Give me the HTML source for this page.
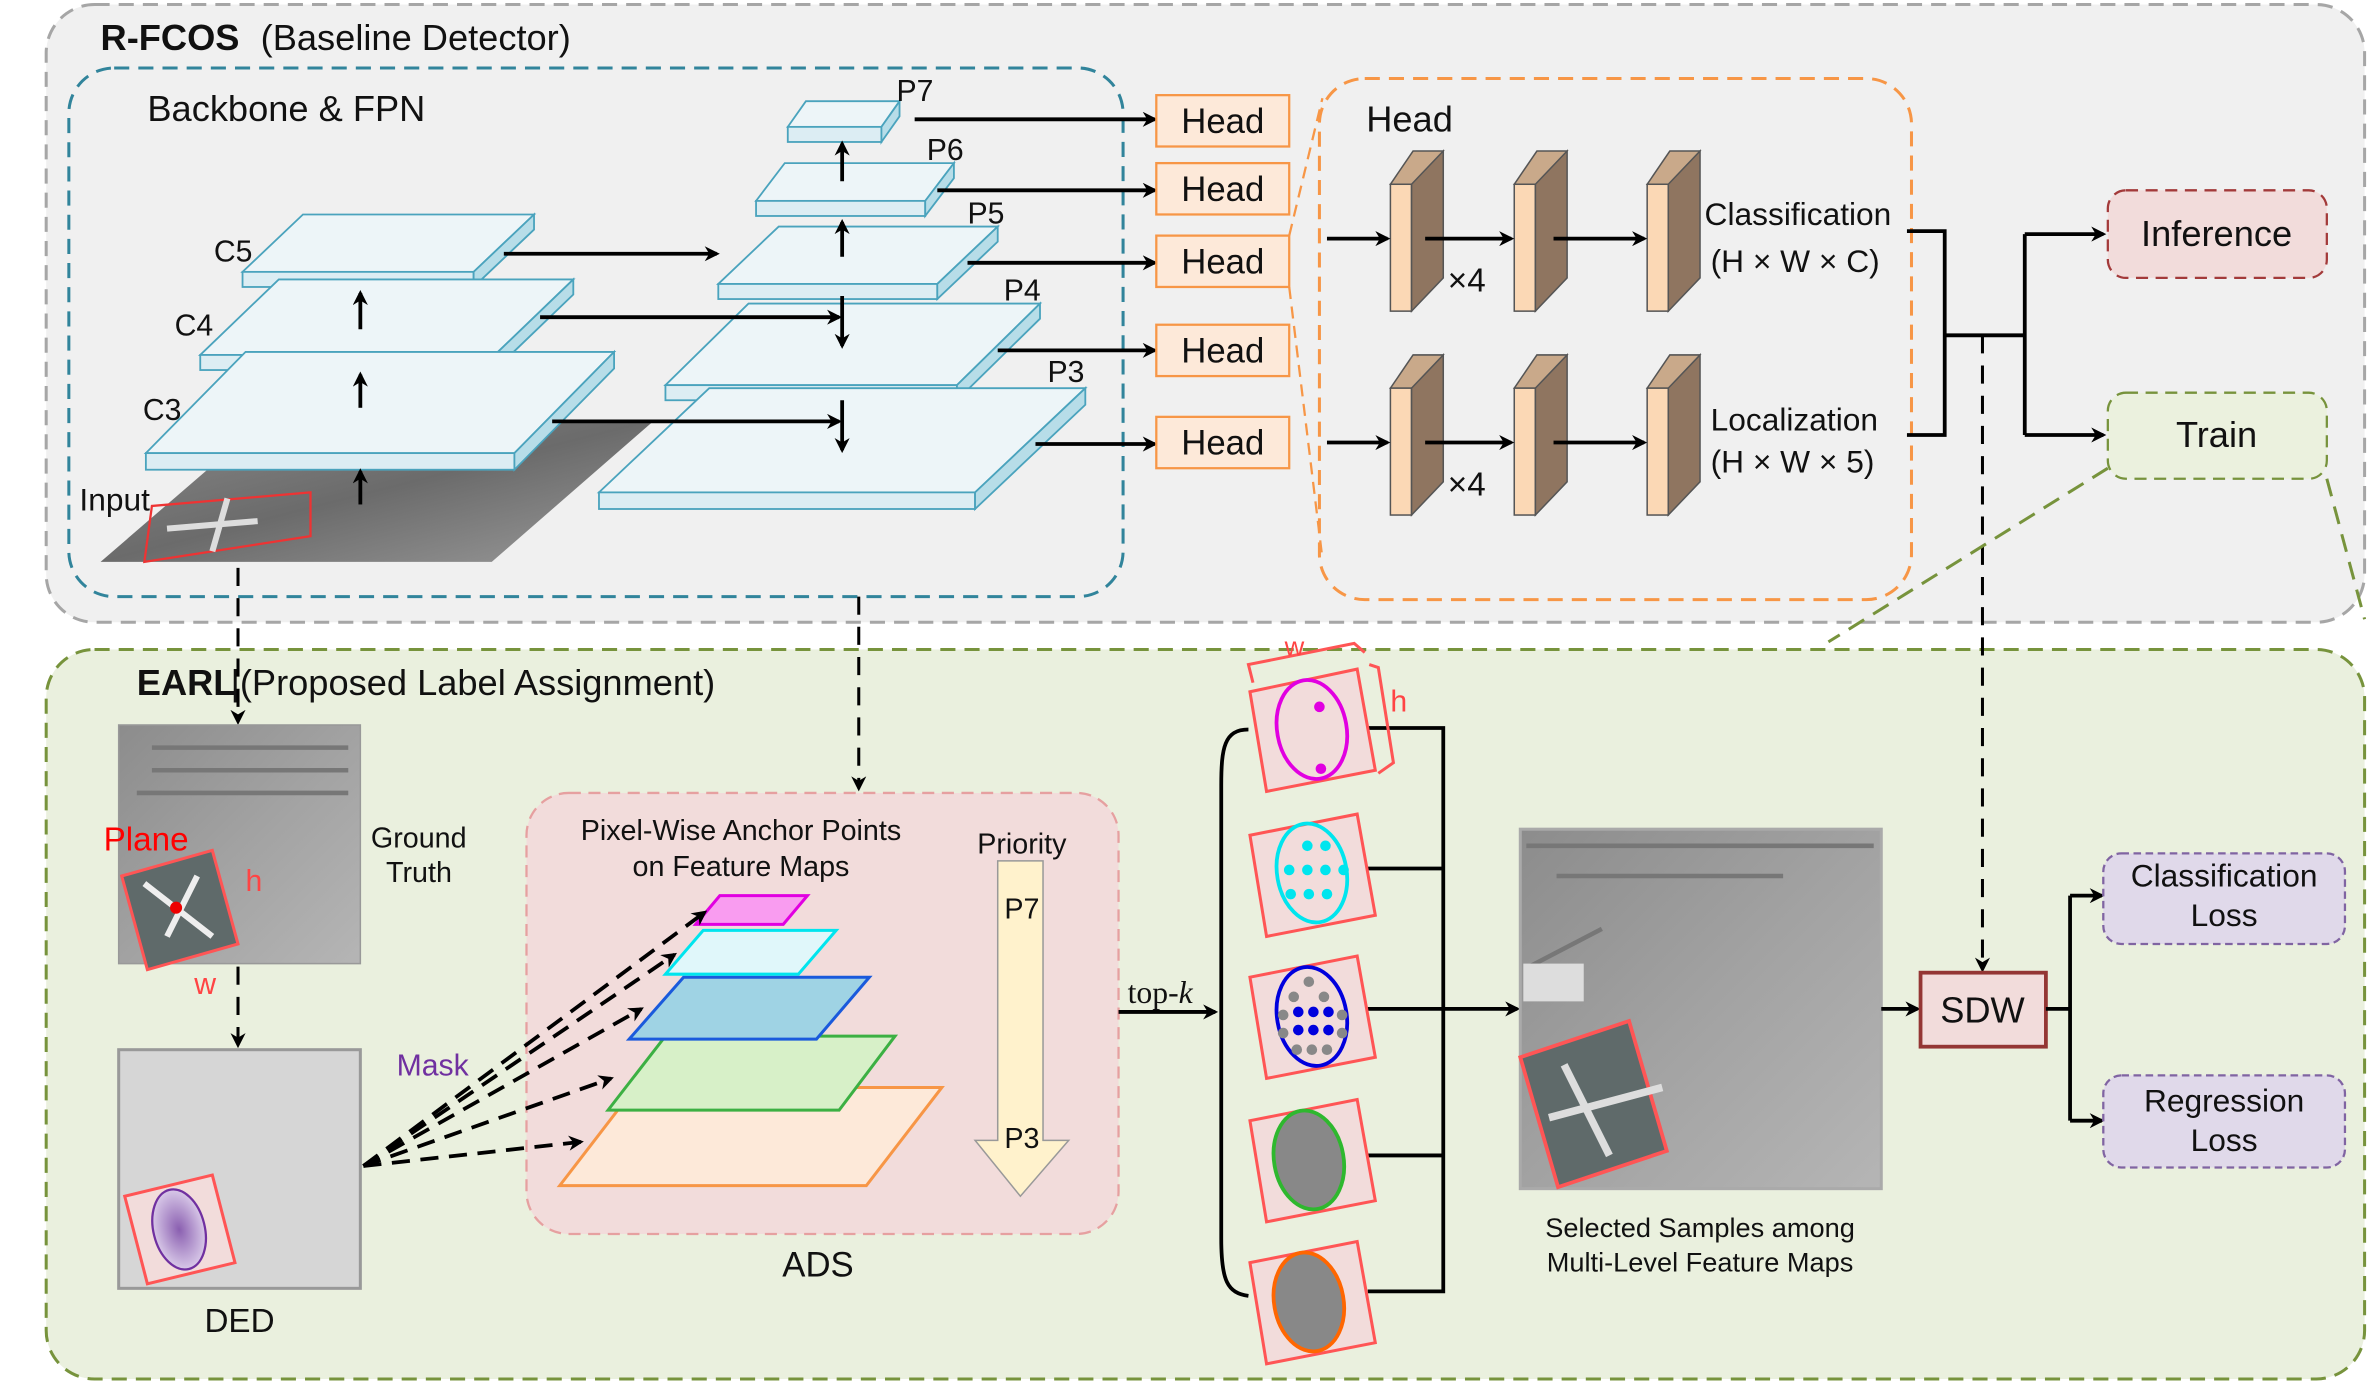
<!DOCTYPE html>
<html><head><meta charset="utf-8"><style>
html,body{margin:0;padding:0;background:#fff}
svg{display:block}
text{font-family:"Liberation Sans",sans-serif;fill:#111}
</style></head><body>
<svg width="2370" height="1385" viewBox="0 0 1568 917" xmlns="http://www.w3.org/2000/svg">
<defs>
<marker id="a" markerWidth="10" markerHeight="10" refX="8" refY="5" orient="auto" markerUnits="userSpaceOnUse"><path d="M0,0 L10,5 L0,10 L3,5 z" fill="#000"/></marker>
<linearGradient id="img" x1="0" y1="0" x2="1" y2="1"><stop offset="0" stop-color="#8a8a8a"/><stop offset="0.5" stop-color="#6b6b6b"/><stop offset="1" stop-color="#9a9a9a"/></linearGradient>
<linearGradient id="sat" x1="0" y1="0" x2="1" y2="1"><stop offset="0" stop-color="#8c8c8c"/><stop offset="0.5" stop-color="#a2a2a2"/><stop offset="1" stop-color="#b5b5b5"/></linearGradient>
<radialGradient id="ded"><stop offset="0" stop-color="#8a5fb0"/><stop offset="1" stop-color="#d8c8e8"/></radialGradient>
</defs>

<!-- Outer boxes -->
<rect x="30" y="3" width="1535" height="409" rx="32" fill="#f0f0f0" stroke="#a6a6a6" stroke-width="2" stroke-dasharray="10,6"/>
<rect x="30" y="430" width="1535" height="483" rx="32" fill="#eaf0de" stroke="#77933c" stroke-width="2" stroke-dasharray="10,6"/>
<rect x="45" y="45" width="698" height="350" rx="30" fill="none" stroke="#31849b" stroke-width="2" stroke-dasharray="10,6"/>
<rect x="873" y="52" width="392" height="345" rx="30" fill="none" stroke="#f79646" stroke-width="2" stroke-dasharray="10,6"/>

<text x="66" y="33" font-size="24" font-weight="bold">R-FCOS</text>
<text x="172" y="33" font-size="24">(Baseline Detector)</text>
<text x="97" y="80" font-size="24">Backbone &amp; FPN</text>

<!-- Input image -->
<polygon points="66,372 325,372 433,278 175,278" fill="url(#img)"/>
<polygon points="95,372 205,355 205,326 100,335" fill="none" stroke="#e33" stroke-width="1.5"/>
<path d="M110,350 L170,345 M150,330 L140,365" stroke="#ddd" stroke-width="4"/>
<text x="52" y="338" font-size="21">Input</text>

<!-- plates: C5, C4, C3 -->
<g stroke="#4aa3bd" stroke-width="1.2">
<polygon points="160,180 200,142 353,142 313,180" fill="#edf5f8"/><rect x="160" y="180" width="153" height="10" fill="#dcedf3"/><polygon points="313,180 353,142 353,152 313,190" fill="#b7dde8"/>
<polygon points="132,235 184,185 379,185 327,235" fill="#edf5f8"/><rect x="132" y="235" width="195" height="10" fill="#dcedf3"/><polygon points="327,235 379,185 379,195 327,245" fill="#b7dde8"/>
<polygon points="96,300 162,233 406,233 340,300" fill="#edf5f8"/><rect x="96" y="300" width="244" height="11" fill="#dcedf3"/><polygon points="340,300 406,233 406,244 340,311" fill="#b7dde8"/>
<!-- P7..P3 -->
<polygon points="521,84 533,67 595,67 583,84" fill="#edf5f8"/><rect x="521" y="84" width="62" height="10" fill="#dcedf3"/><polygon points="583,84 595,67 595,77 583,94" fill="#b7dde8"/>
<polygon points="500,133 519,108 631,108 612,133" fill="#edf5f8"/><rect x="500" y="133" width="112" height="10" fill="#dcedf3"/><polygon points="612,133 631,108 631,118 612,143" fill="#b7dde8"/>
<polygon points="475,188 515,150 660,150 620,188" fill="#edf5f8"/><rect x="475" y="188" width="145" height="10" fill="#dcedf3"/><polygon points="620,188 660,150 660,160 620,198" fill="#b7dde8"/>
<polygon points="440,255 495,201 688,201 633,255" fill="#edf5f8"/><rect x="440" y="255" width="193" height="10" fill="#dcedf3"/><polygon points="633,255 688,201 688,211 633,265" fill="#b7dde8"/>
<polygon points="396,326 469,257 718,257 645,326" fill="#edf5f8"/><rect x="396" y="326" width="249" height="11" fill="#dcedf3"/><polygon points="645,326 718,257 718,268 645,337" fill="#b7dde8"/>
</g>
<g font-size="20">
<text x="141" y="173">C5</text><text x="115" y="222">C4</text><text x="94" y="278">C3</text>
<text x="593" y="67">P7</text><text x="613" y="106">P6</text><text x="640" y="148">P5</text><text x="664" y="199">P4</text><text x="693" y="253">P3</text>
</g>
<g stroke="#000" stroke-width="2.5" fill="none" marker-end="url(#a)">
<line x1="333" y1="168" x2="474" y2="168"/>
<line x1="357" y1="210" x2="555" y2="210"/>
<line x1="365" y1="279" x2="555" y2="279"/>
<line x1="238" y1="218" x2="238" y2="194"/>
<line x1="238" y1="270" x2="238" y2="248"/>
<line x1="238" y1="334" x2="238" y2="312"/>
<line x1="557" y1="170" x2="557" y2="147"/>
<line x1="557" y1="120" x2="557" y2="95"/>
<line x1="557" y1="196" x2="557" y2="229"/>
<line x1="557" y1="265" x2="557" y2="298"/>
<line x1="605" y1="79" x2="764" y2="79"/>
<line x1="620" y1="126" x2="764" y2="126"/>
<line x1="640" y1="174" x2="764" y2="174"/>
<line x1="660" y1="232" x2="764" y2="232"/>
<line x1="685" y1="294" x2="764" y2="294"/>
</g>

<!-- Heads -->
<g fill="#fde9d9" stroke="#f79646" stroke-width="1.5">
<rect x="765" y="63" width="88" height="34"/><rect x="765" y="108" width="88" height="34"/><rect x="765" y="156" width="88" height="34"/><rect x="765" y="215" width="88" height="34"/><rect x="765" y="276" width="88" height="34"/>
</g>
<g font-size="23" text-anchor="middle">
<text x="809" y="88">Head</text><text x="809" y="133">Head</text><text x="809" y="181">Head</text><text x="809" y="240">Head</text><text x="809" y="301">Head</text>
</g>
<g stroke="#f79646" stroke-width="1.5" stroke-dasharray="8,5" fill="none">
<line x1="853" y1="156" x2="875" y2="65"/><line x1="853" y1="190" x2="875" y2="370"/>
</g>

<!-- head detail -->
<text x="904" y="87" font-size="24">Head</text>
<g stroke="#555" stroke-width="1">
<g id="blk"><polygon points="920,122 935,100 955,100 940,122" fill="#c9a98a"/><rect x="920" y="122" width="14" height="84" fill="#fbd8b5"/><polygon points="934,122 955,100 955,184 934,206" fill="#8f7560"/></g>
<use href="#blk" x="82"/><use href="#blk" x="170"/>
<use href="#blk" y="135"/><use href="#blk" x="82" y="135"/><use href="#blk" x="170" y="135"/>
</g>
<g stroke="#000" stroke-width="2.5" marker-end="url(#a)">
<line x1="878" y1="158" x2="918" y2="158"/><line x1="943" y1="158" x2="1000" y2="158"/><line x1="1028" y1="158" x2="1088" y2="158"/>
<line x1="878" y1="293" x2="918" y2="293"/><line x1="943" y1="293" x2="1000" y2="293"/><line x1="1028" y1="293" x2="1088" y2="293"/>
</g>
<text x="958" y="193" font-size="22">×4</text><text x="958" y="328" font-size="22">×4</text>
<g font-size="21">
<text x="1128" y="149">Classification</text><text x="1132" y="180">(H × W × C)</text>
<text x="1132" y="285">Localization</text><text x="1132" y="313">(H × W × 5)</text>
</g>
<g stroke="#000" stroke-width="2.5" fill="none">
<polyline points="1262,153 1287,153 1287,288 1262,288"/>
<line x1="1287" y1="222" x2="1340" y2="222"/>
<line x1="1340" y1="155" x2="1340" y2="288"/>
<line x1="1340" y1="155" x2="1392" y2="155" marker-end="url(#a)"/>
<line x1="1340" y1="288" x2="1392" y2="288" marker-end="url(#a)"/>
</g>
<line x1="1312" y1="222" x2="1312" y2="642" stroke="#000" stroke-width="2" stroke-dasharray="12,8" marker-end="url(#a)"/>
<rect x="1395" y="126" width="145" height="58" rx="12" fill="#f2dcdb" stroke="#a33a3a" stroke-width="1.5" stroke-dasharray="8,5"/>
<text x="1467" y="163" font-size="24" text-anchor="middle">Inference</text>
<rect x="1395" y="260" width="145" height="57" rx="12" fill="#ebf1de" stroke="#77933c" stroke-width="1.5" stroke-dasharray="8,5"/>
<text x="1467" y="296" font-size="24" text-anchor="middle">Train</text>
<g stroke="#77933c" stroke-width="2" stroke-dasharray="12,7">
<line x1="1395" y1="310" x2="1210" y2="425"/><line x1="1540" y1="317" x2="1565" y2="410"/>
</g>

<!-- EARL -->
<text x="90" y="460" font-size="24" font-weight="bold">EARL</text>
<text x="152" y="460" font-size="24">|(Proposed Label Assignment)</text>
<g stroke="#000" stroke-width="2" fill="none" stroke-dasharray="12,8">
<line x1="157" y1="376" x2="157" y2="478" marker-end="url(#a)"/>
<line x1="568" y1="395" x2="568" y2="522" marker-end="url(#a)"/>
</g>
<rect x="78" y="480" width="160" height="158" fill="url(#sat)" stroke="#999"/>
<g stroke="#777" stroke-width="3"><line x1="100" y1="495" x2="230" y2="495"/><line x1="100" y1="510" x2="230" y2="510"/><line x1="90" y1="525" x2="230" y2="525"/></g>
<polygon points="80,580 140,563 157,625 97,642" fill="#5f6a6a" stroke="#f55" stroke-width="2"/>
<path d="M95,585 L140,620 M110,620 L130,580" stroke="#eee" stroke-width="4"/>
<circle cx="116" cy="601" r="4" fill="#e00"/>
<text x="68" y="563" font-size="22" fill="#ff0000" style="fill:#f00">Plane</text>
<text x="162" y="590" font-size="20" style="fill:#f44">h</text>
<text x="128" y="658" font-size="20" style="fill:#f44">w</text>
<text x="245" y="561" font-size="19">Ground</text><text x="255" y="584" font-size="19">Truth</text>
<line x1="157" y1="640" x2="157" y2="692" stroke="#000" stroke-width="2" stroke-dasharray="12,8" marker-end="url(#a)"/>
<rect x="78" y="695" width="160" height="158" fill="#d6d6d6" stroke="#999" stroke-width="2"/>
<polygon points="82,792 140,778 155,836 97,850" fill="#f2dcdb" stroke="#f55" stroke-width="2"/>
<ellipse cx="118" cy="814" rx="17" ry="27" fill="url(#ded)" stroke="#7030a0" stroke-width="1.5" transform="rotate(-14 118 814)"/>
<text x="158" y="882" font-size="22" text-anchor="middle">DED</text>
<text x="262" y="712" font-size="20" style="fill:#7030a0">Mask</text>

<!-- ADS -->
<rect x="348" y="525" width="392" height="292" rx="28" fill="#f2dcdb" stroke="#e6a0a0" stroke-width="1.5" stroke-dasharray="8,5"/>
<text x="490" y="556" font-size="19" text-anchor="middle">Pixel-Wise Anchor Points</text>
<text x="490" y="580" font-size="19" text-anchor="middle">on Feature Maps</text>
<polygon points="370,785 420,720 623,720 573,785" fill="#fde9d9" stroke="#f79646" stroke-width="2"/>
<polygon points="402,735 440,686 592,686 555,735" fill="#d7f0c8" stroke="#3cb043" stroke-width="2"/>
<polygon points="416,688 452,647 575,647 540,688" fill="#9fd3e4" stroke="#1a5adc" stroke-width="2"/>
<polygon points="440,645 465,616 553,616 528,645" fill="#e0f7fa" stroke="#00e5ee" stroke-width="2"/>
<polygon points="460,612 476,593 534,593 518,612" fill="#f99cf0" stroke="#e100e1" stroke-width="2"/>
<g stroke="#000" stroke-width="2.5" stroke-dasharray="12,7" fill="none" marker-end="url(#a)">
<line x1="240" y1="772" x2="466" y2="604"/>
<line x1="240" y1="772" x2="446" y2="632"/>
<line x1="240" y1="772" x2="424" y2="668"/>
<line x1="240" y1="772" x2="404" y2="714"/>
<line x1="240" y1="772" x2="384" y2="756"/>
</g>
<polygon points="660,570 690,570 690,755 707,755 675,792 645,755 660,755" fill="#fff2cc" stroke="#999" stroke-width="1"/>
<text x="676" y="565" font-size="19" text-anchor="middle">Priority</text>
<text x="676" y="608" font-size="19" text-anchor="middle">P7</text>
<text x="676" y="760" font-size="19" text-anchor="middle">P3</text>
<text x="541" y="845" font-size="23" text-anchor="middle">ADS</text>

<!-- top-k -->
<line x1="740" y1="670" x2="804" y2="670" stroke="#000" stroke-width="2.5" marker-end="url(#a)"/>
<text x="746" y="664" font-size="21" style="font-family:'Liberation Serif',serif">top-<tspan font-style="italic">k</tspan></text>
<path d="M826,483 C810,483 808,495 808,520 L808,820 C808,848 812,856 826,858" stroke="#000" stroke-width="2.5" fill="none"/>
<g stroke="#000" stroke-width="2.5" fill="none">
<polyline points="905,482 955,482 955,855 905,855"/>
<line x1="905" y1="575" x2="955" y2="575"/>
<line x1="905" y1="765" x2="955" y2="765"/>
<line x1="905" y1="668" x2="1004" y2="668" marker-end="url(#a)"/>
</g>
<g stroke="#f55" stroke-width="2" fill="#f2dcdb">
<polygon points="827,458 898,443 910,510 838,524"/>
<polygon points="827,553 898,539 910,606 838,620"/>
<polygon points="827,647 898,633 910,700 838,714"/>
<polygon points="827,742 898,728 910,795 838,809"/>
<polygon points="827,836 898,822 910,889 838,903"/>
</g>
<g fill="none" stroke="#f55" stroke-width="2">
<path d="M829,452 L826,440 L896,426 L903,432"/><path d="M906,440 L912,442 L922,505 L912,512"/>
</g>
<text x="850" y="434" font-size="18" style="fill:#f44">w</text>
<text x="920" y="471" font-size="20" style="fill:#f44">h</text>
<ellipse cx="868" cy="483" rx="23" ry="33" fill="none" stroke="#e100e1" stroke-width="2.5" transform="rotate(-10 868 483)"/>
<circle cx="873" cy="468" r="3.5" fill="#e100e1"/><circle cx="874" cy="509" r="3.5" fill="#e100e1"/>
<ellipse cx="868" cy="578" rx="23" ry="33" fill="none" stroke="#00e5ee" stroke-width="2.5" transform="rotate(-10 868 578)"/>
<g fill="#00e5ee"><circle cx="865" cy="560" r="3.5"/><circle cx="877" cy="560" r="3.5"/><circle cx="853" cy="576" r="3.5"/><circle cx="865" cy="576" r="3.5"/><circle cx="877" cy="576" r="3.5"/><circle cx="889" cy="576" r="3.5"/><circle cx="854" cy="592" r="3.5"/><circle cx="866" cy="592" r="3.5"/><circle cx="878" cy="592" r="3.5"/></g>
<ellipse cx="868" cy="673" rx="23" ry="33" fill="none" stroke="#0000dd" stroke-width="2.5" transform="rotate(-10 868 673)"/>
<g fill="#888"><circle cx="866" cy="650" r="3.5"/><circle cx="856" cy="660" r="3.5"/><circle cx="876" cy="660" r="3.5"/><circle cx="849" cy="672" r="3.5"/><circle cx="888" cy="672" r="3.5"/><circle cx="849" cy="684" r="3.5"/><circle cx="888" cy="684" r="3.5"/><circle cx="858" cy="695" r="3.5"/><circle cx="878" cy="695" r="3.5"/><circle cx="868" cy="695" r="3.5"/></g>
<g fill="#0000dd"><circle cx="859" cy="670" r="3.5"/><circle cx="869" cy="670" r="3.5"/><circle cx="879" cy="670" r="3.5"/><circle cx="859" cy="682" r="3.5"/><circle cx="869" cy="682" r="3.5"/><circle cx="879" cy="682" r="3.5"/></g>
<ellipse cx="866" cy="768" rx="23" ry="33" fill="#888" stroke="#2eb82e" stroke-width="2.5" transform="rotate(-10 866 768)"/>
<ellipse cx="866" cy="862" rx="23" ry="33" fill="#888" stroke="#ff6600" stroke-width="2.5" transform="rotate(-10 866 862)"/>

<!-- selected samples image -->
<rect x="1006" y="549" width="239" height="238" fill="url(#sat)" stroke="#aaa" stroke-width="2"/>
<g stroke="#777" stroke-width="3"><line x1="1010" y1="560" x2="1240" y2="560"/><line x1="1030" y1="580" x2="1180" y2="580"/><line x1="1012" y1="640" x2="1060" y2="615"/></g>
<rect x="1008" y="638" width="40" height="25" fill="#ddd"/>
<polygon points="1006,700 1078,676 1103,762 1031,786" fill="#5f6a6a" stroke="#f55" stroke-width="2.5"/>
<path d="M1035,705 L1065,765 M1025,740 L1100,720" stroke="#ddd" stroke-width="5"/>
<text x="1125" y="819" font-size="18" text-anchor="middle">Selected Samples among</text>
<text x="1125" y="842" font-size="18" text-anchor="middle">Multi-Level Feature Maps</text>
<line x1="1245" y1="668" x2="1269" y2="668" stroke="#000" stroke-width="2.5" marker-end="url(#a)"/>
<rect x="1271" y="644" width="83" height="49" fill="#f2dcdb" stroke="#943634" stroke-width="2.5"/>
<text x="1312" y="677" font-size="24" text-anchor="middle">SDW</text>
<g stroke="#000" stroke-width="2.5" fill="none">
<line x1="1354" y1="668" x2="1370" y2="668"/>
<line x1="1370" y1="593" x2="1370" y2="742"/>
<line x1="1370" y1="593" x2="1391" y2="593" marker-end="url(#a)"/>
<line x1="1370" y1="742" x2="1391" y2="742" marker-end="url(#a)"/>
</g>
<rect x="1392" y="565" width="160" height="60" rx="12" fill="#e0d9ea" stroke="#8064a2" stroke-width="1.5" stroke-dasharray="5,3"/>
<text x="1472" y="587" font-size="21" text-anchor="middle">Classification</text>
<text x="1472" y="613" font-size="21" text-anchor="middle">Loss</text>
<rect x="1392" y="712" width="160" height="61" rx="12" fill="#e0d9ea" stroke="#8064a2" stroke-width="1.5" stroke-dasharray="5,3"/>
<text x="1472" y="736" font-size="21" text-anchor="middle">Regression</text>
<text x="1472" y="762" font-size="21" text-anchor="middle">Loss</text>
</svg>
</body></html>
